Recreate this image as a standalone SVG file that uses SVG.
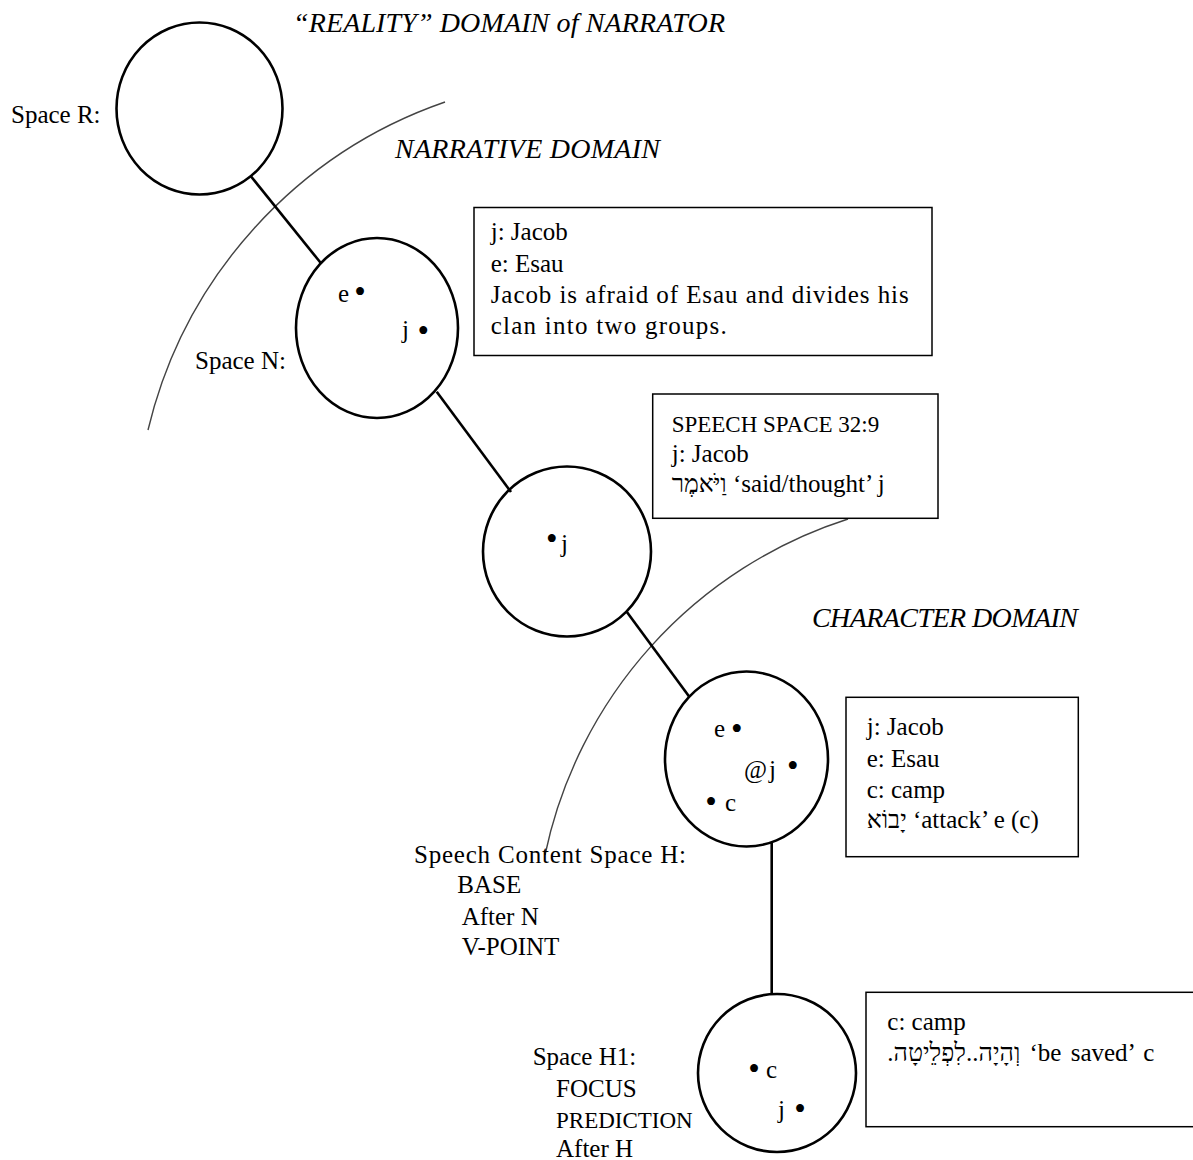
<svg xmlns="http://www.w3.org/2000/svg" width="1193" height="1160" viewBox="0 0 1193 1160">
<style>
.t{font-family:"Liberation Serif","DejaVu Serif",serif;font-size:25px;fill:#000}
.it{font-style:italic;font-size:28px}
.b{font-size:33px}
.node{fill:none;stroke:#000;stroke-width:2.6}
.box{fill:#fff;stroke:#000;stroke-width:1.5}
.conn{stroke:#000;stroke-width:2.6;fill:none}
.arc{fill:none;stroke:#444;stroke-width:1.4}
</style>
<rect width="1193" height="1160" fill="#fff"/>
<g id="domains">
<path class="arc" d="M445,102 A460,460 0 0 0 148,430"/>
<path class="arc" d="M848,519 A450,450 0 0 0 545,855"/>
<text class="t it" x="293" y="32" textLength="432">“REALITY” DOMAIN of NARRATOR</text>
<text class="t it" x="395" y="158" textLength="265">NARRATIVE DOMAIN</text>
<text class="t it" x="812" y="627" textLength="266">CHARACTER DOMAIN</text>
</g>
<g id="connectors">
<line class="conn" x1="250.7" y1="176" x2="321" y2="263.3"/>
<line class="conn" x1="436.7" y1="391.7" x2="511" y2="492"/>
<line class="conn" x1="626.7" y1="611.7" x2="689.3" y2="696.7"/>
<line class="conn" x1="771.7" y1="842" x2="771.7" y2="995"/>
</g>
<g id="spaceR">
<ellipse class="node" cx="199.5" cy="108.5" rx="83" ry="86"/>
<text class="t" x="11" y="123">Space R:</text>
</g>
<g id="spaceN">
<ellipse class="node" cx="377" cy="328" rx="81" ry="90"/>
<text class="t" x="338" y="301.7">e</text>
<text class="t b" x="354.2" y="303.2">•</text>
<text class="t" x="402" y="338">j</text>
<text class="t b" x="417.5" y="341.5">•</text>
<text class="t" x="195" y="369.3">Space N:</text>
</g>
<g id="boxN">
<rect class="box" x="474" y="207.5" width="458" height="148"/>
<text class="t" x="490.7" y="239.5">j: Jacob</text>
<text class="t" x="490.7" y="271.5">e: Esau</text>
<text class="t" x="490.7" y="303" textLength="418">Jacob is afraid of Esau and divides his</text>
<text class="t" x="490.7" y="333.5" textLength="236">clan into two groups.</text>
</g>
<g id="speechSpace">
<ellipse class="node" cx="567" cy="551.5" rx="84" ry="85"/>
<text class="t b" x="546" y="549.5">•</text>
<text class="t" x="561" y="552">j</text>
</g>
<g id="boxSpeech">
<rect class="box" x="652.7" y="394" width="285.3" height="124.3"/>
<text class="t" x="671.7" y="431.7" style="font-size:23px">SPEECH SPACE 32:9</text>
<text class="t" x="671.7" y="461.7">j: Jacob</text>
<text class="t" x="671.7" y="491.7">וַיֹּאמֶר ‘said/thought’ j</text>
</g>
<g id="spaceH">
<ellipse class="node" cx="746.5" cy="759" rx="81.5" ry="87.5"/>
<text class="t" x="714" y="736.7">e</text>
<text class="t b" x="731" y="739.8">•</text>
<text class="t" x="744" y="778.3">@</text>
<text class="t" x="769" y="778.3">j</text>
<text class="t b" x="787" y="776.5">•</text>
<text class="t b" x="705.2" y="813.2">•</text>
<text class="t" x="725" y="810.7">c</text>
<text class="t" x="414" y="863.3" textLength="272">Speech Content Space H:</text>
<text class="t" x="457.3" y="893.3">BASE</text>
<text class="t" x="461.7" y="925">After N</text>
<text class="t" x="461.7" y="955">V-POINT</text>
</g>
<g id="boxH">
<rect class="box" x="846" y="697.3" width="232.3" height="159.4"/>
<text class="t" x="866.7" y="735">j: Jacob</text>
<text class="t" x="866.7" y="766.7">e: Esau</text>
<text class="t" x="866.7" y="798.3">c: camp</text>
<text class="t" x="866.7" y="828">יָבוֹא ‘attack’ e (c)</text>
</g>
<g id="spaceH1">
<ellipse class="node" cx="777" cy="1073" rx="79" ry="79"/>
<text class="t b" x="748.2" y="1080">•</text>
<text class="t" x="766" y="1078">c</text>
<text class="t" x="778" y="1118">j</text>
<text class="t b" x="794.2" y="1120">•</text>
<text class="t" x="532.7" y="1065">Space H1:</text>
<text class="t" x="556" y="1096.7">FOCUS</text>
<text class="t" x="556" y="1128.3" style="font-size:23px">PREDICTION</text>
<text class="t" x="556" y="1156.7">After H</text>
</g>
<g id="boxH1">
<rect class="box" x="866" y="992.3" width="340" height="134.4"/>
<text class="t" x="887.3" y="1030">c: camp</text>
<text class="t" x="887.3" y="1061" style="word-spacing:3px">וְהָיָה..לִפְלֵיטָה.‏ ‘be saved’ c</text>
</g>
</svg>
